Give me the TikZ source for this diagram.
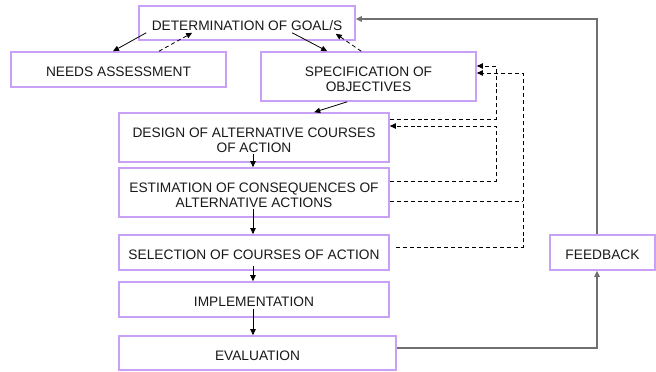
\documentclass[tikz,border=0pt]{standalone}
\usepackage{fontspec}
\setmainfont{Liberation Sans}
\usetikzlibrary{arrows.meta,calc}
\definecolor{boxc}{RGB}{200,160,245}
\definecolor{greyc}{RGB}{112,112,112}
\definecolor{txtc}{RGB}{25,25,25}
\newcommand\bx[6]{\node[box, minimum width={(#4-#2)*0.75pt}, minimum height={(#5-#3)*0.75pt}] (#1) at ({(#2+#4)/2},{(#3+#5)/2}) {};
  \node[txt] (#1-t) at ([shift={(0,2.5)}]#1.center) {#6};}
\begin{document}
\begin{tikzpicture}[x=0.75pt,y=-0.75pt,
  box/.style={draw=boxc, line width=1.2pt, fill=white, inner sep=0pt},
  txt/.style={inner sep=0pt, align=center, text=txtc, font=\fontsize{10.3}{11.5}\selectfont},
  tip/.style={-{Triangle[length=4.5pt,width=4pt]}},
  arr/.style={tip, line width=0.6pt, black},
  dsh/.style={tip, line width=0.6pt, black, dash pattern=on 3pt off 2.2pt},
  grey/.style={-{Triangle[length=4.5pt,width=4pt]}, line width=1.1pt, greyc}]
\useasboundingbox (0,0) rectangle (656,371);
\bx{goal}{139}{6}{355}{40}{DETERMINATION OF GOAL/S}
\bx{needs}{11}{52}{226}{87}{NEEDS ASSESSMENT}
\bx{spec}{261}{52}{476}{101}{SPECIFICATION OF\\OBJECTIVES}
\bx{design}{119}{113}{389}{162}{DESIGN OF ALTERNATIVE COURSES\\OF ACTION}
\bx{est}{119}{168}{389}{217}{ESTIMATION OF CONSEQUENCES OF\\ALTERNATIVE ACTIONS}
\bx{sel}{119}{235}{389}{270}{SELECTION OF COURSES OF ACTION}
\bx{impl}{119}{282}{389}{317}{IMPLEMENTATION}
\bx{eval}{119}{336}{396}{370}{EVALUATION}
\bx{fb}{550}{235}{655}{270}{FEEDBACK}
% top arrows
\draw[arr] ([shift={(8,-8)}]goal.south west) -- ([shift={(-5.5,0)}]needs.north);
\draw[dsh] ([shift={(40.5,0)}]needs.north) -- ([shift={(54,-8)}]goal.south west);
\draw[arr] ([shift={(154,-8)}]goal.south west) -- ([shift={(67,0)}]spec.north west);
\draw[dsh] ([shift={(101,0)}]spec.north west) -- ([shift={(-20,-7)}]goal.south east);
\draw[arr] ([shift={(87,0)}]spec.south west) -- ([shift={(196,0)}]design.north west);
% vertical chain
\draw[arr] ([shift={(-1,-9)}]design.south) -- ([shift={(-1,0)}]est.north);
\draw[arr] ([shift={(-1,-9)}]est.south) -- ([shift={(-1,0)}]sel.north);
\draw[arr] ([shift={(-1,-5)}]sel.south) -- ([shift={(-1,0)}]impl.north);
\draw[arr] ([shift={(-1,-9)}]impl.south) -- ([shift={(-1,0)}]impl.south |- eval.north);
% feedback loop
\draw[grey] ([shift={(0,-5)}]eval.east) -| ([shift={(-5.5,0)}]fb.south);
\draw[grey] ([shift={(-5.5,0)}]fb.north) |- ([shift={(0,-4)}]goal.east);
% dashed feedback lines
\draw[dsh] ([shift={(0,-18.5)}]design.east) -- (496,119) -- (496,66) -- ([shift={(0,-10.5)}]spec.east);
\draw[dsh] ([shift={(0,-11.5)}]est.east) -- (496,181) -- (496,126) -- ([shift={(0,-11.5)}]design.east);
\coordinate (j) at (523,201);
\draw[line width=0.6pt, dash pattern=on 3pt off 2.2pt] ([shift={(0,8.5)}]est.east) -- (j);
\draw[dsh] ([shift={(6,-5.5)}]sel.east) -- (523,247) -- (523,73) -- ([shift={(0,-3.5)}]spec.east);
\end{tikzpicture}
\end{document}
